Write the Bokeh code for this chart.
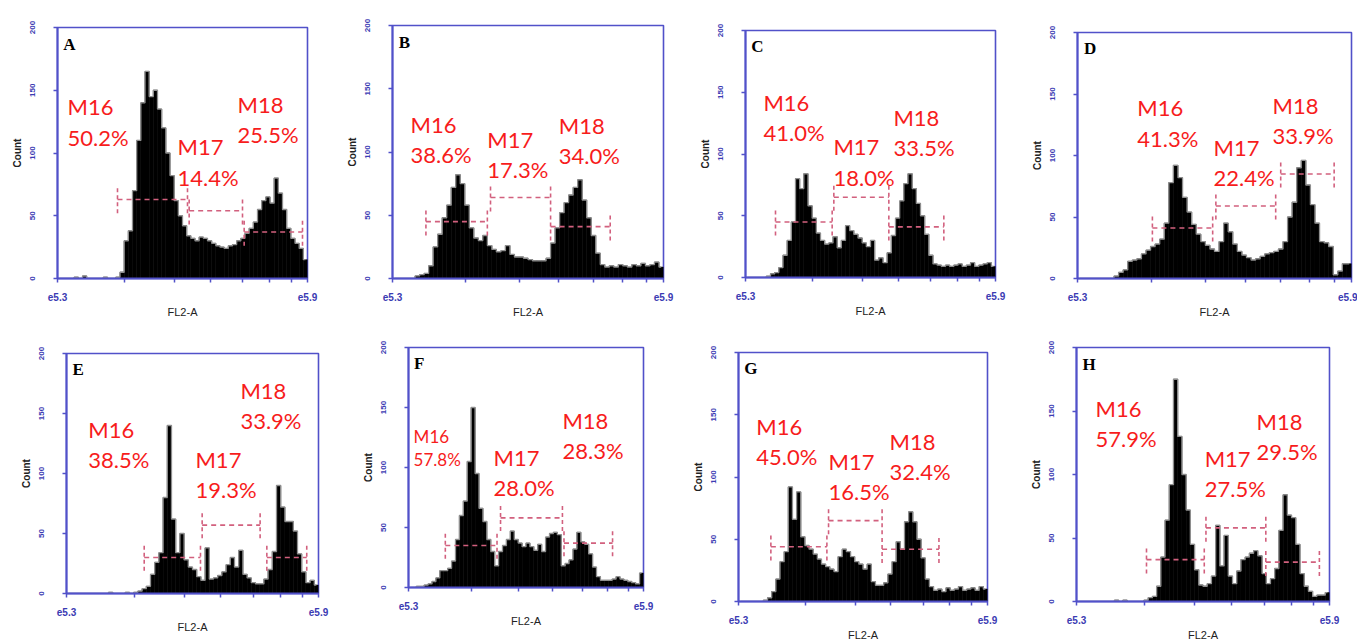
import numpy as np
from bokeh.plotting import figure
from bokeh.layouts import column, row
from bokeh.models import Range1d, FixedTicker, ColumnDataSource
from bokeh.core.properties import value
from bokeh.embed import file_html
from bokeh.resources import INLINE

# ---------------- data ----------------
X_START, X_END = 5.3, 5.9
BIN_W = 0.01
X_MINOR_TICKS = [5.461, 5.581, 5.667, 5.745, 5.809, 5.862]
Y_TICKS = [0, 50, 100, 150, 200]
GATE_NAMES = ["M16", "M17", "M18"]
PANELS = ["A", "B", "C", "D", "E", "F", "G", "H"]

counts_A = [0,0,0,0,1, 0,2,0,0,0, 0,1,0,0,1, 5,30,38,70,110, 140,165,145,150,135,
            120,100,82,62,50, 42,34,32,30,33, 32,30,28,26,25, 24,26,27,30,32,
            36,40,45,55,62, 65,60,80,68,55, 40,32,28,24,15]
counts_B = [0,0,0,0,0, 2,3,4,10,25, 35,48,58,72,82, 75,58,40,32,30, 34,26,23,21,22,
            26,19,17,17,16, 15,14,14,14,16, 28,40,52,60,66, 72,78,62,48,34,
            20,11,9,10,9, 11,10,9,11,10, 12,10,11,13,9]
counts_C = [0,0,0,0,0, 1,3,4,8,18, 30,45,80,72,84, 58,48,36,30,27, 28,33,24,30,42,
            38,35,32,28,25, 30,14,16,12,20, 34,48,62,76,84, 72,60,50,35,18,
            11,10,9,10,9, 10,11,9,10,12, 9,10,11,12,9]
counts_D = [0,0,0,0,0, 0,0,0,2,5, 7,14,15,16,20, 23,26,28,32,45, 78,92,82,66,54,
            44,36,30,27,24, 22,30,45,38,28, 22,19,17,15,16, 18,20,21,22,24,
            30,50,62,90,96, 76,60,45,30,29, 26,3,6,12,12]
counts_E = [0,0,0,0,0, 0,0,0,0,0, 1,0,0,0,1, 0,1,2,4,6, 16,26,34,80,140,
            62,34,50,28,22, 20,14,11,38,12, 13,15,18,24,30, 22,36,16,13,9,
            8,8,12,20,35, 90,72,60,60,52, 33,18,9,11,7]
counts_F = [0,0,1,1,2, 3,5,8,14,14, 16,22,40,60,72, 105,150,95,66,55, 40,30,18,30,35,
            40,47,40,37,34, 37,34,31,36,30, 42,45,46,44,18, 20,23,32,46,38,
            36,28,17,9,6, 6,6,7,9,7, 6,5,4,3,12]
counts_G = [0,0,0,0,0, 0,1,3,8,18, 32,40,92,66,88, 52,45,42,38,34, 30,28,26,24,36,
            42,40,36,32,30, 26,30,16,13,13, 15,22,32,48,42, 64,72,64,50,35,
            18,12,9,10,8, 11,9,10,12,9, 10,11,9,12,10]
counts_H = [0,0,0,0,0, 0,0,0,0,1, 0,1,0,0,0, 0,1,3,4,12, 35,64,92,175,130,
            100,72,45,25,13, 12,14,20,60,28, 52,20,14,24,33, 35,38,40,36,22,
            14,18,26,56,84, 68,66,45,22,12, 8,4,5,5,7]

pct_A = ["50.2%", "14.4%", "25.5%"]
pct_B = ["38.6%", "17.3%", "34.0%"]
pct_C = ["41.0%", "18.0%", "33.5%"]
pct_D = ["41.3%", "22.4%", "33.9%"]
pct_E = ["38.5%", "19.3%", "33.9%"]
pct_F = ["57.8%", "28.0%", "28.3%"]
pct_G = ["45.0%", "16.5%", "32.4%"]
pct_H = ["57.9%", "27.5%", "29.5%"]

# gate marker ranges (FL2-A start, end) and marker height (count)
gate_lo_A = [5.444, 5.616, 5.748]; gate_hi_A = [5.612, 5.744, 5.888]; gate_y_A = [63, 54, 37]
gate_lo_B = [5.374, 5.517, 5.650]; gate_hi_B = [5.510, 5.650, 5.782]; gate_y_B = [45, 64, 41]
gate_lo_C = [5.372, 5.512, 5.644]; gate_hi_C = [5.508, 5.644, 5.776]; gate_y_C = [45, 65, 41]
gate_lo_D = [5.464, 5.603, 5.745]; gate_hi_D = [5.596, 5.734, 5.862]; gate_y_D = [41, 59, 85]
gate_lo_E = [5.485, 5.623, 5.777]; gate_hi_E = [5.619, 5.761, 5.872]; gate_y_E = [30, 57, 30]
gate_lo_F = [5.394, 5.535, 5.697]; gate_hi_F = [5.526, 5.693, 5.821]; gate_y_F = [35, 58, 37]
gate_lo_G = [5.378, 5.517, 5.646]; gate_hi_G = [5.513, 5.646, 5.783]; gate_y_G = [44, 65, 42]
gate_lo_H = [5.466, 5.607, 5.749]; gate_hi_H = [5.603, 5.749, 5.876]; gate_y_H = [33, 58, 31]

# ---------------- layout / style ----------------
lab_x = {"A": [5.324, 5.588, 5.732], "B": [5.340, 5.510, 5.668], "C": [5.343, 5.511, 5.655],
         "D": [5.431, 5.598, 5.727], "E": [5.352, 5.607, 5.714], "F": [5.313, 5.517, 5.693],
         "G": [5.343, 5.517, 5.664], "H": [5.345, 5.604, 5.727]}
lab_y = {"A": [142, 110, 144], "B": [127, 115, 126], "C": [147, 111, 135], "D": [144, 112, 146],
         "E": [142, 117, 175], "F": [129, 114, 145], "G": [146, 118, 134], "H": [157, 118, 147]}
lab_fs = {k: ["22px", "22px", "22px"] for k in PANELS}
lab_fs["F"] = ["17px", "22px", "22px"]

# width, height, border left, right, top, bottom
geom = {"A": (340, 320, 57, 33, 27, 41), "B": (340, 320, 52, 17, 25, 42),
        "C": (335, 320, 65, 20, 30, 43), "D": (342, 320, 62, 6, 32, 37),
        "E": (340, 323, 66, 22, 33, 50), "F": (340, 323, 68, 37, 27, 56),
        "G": (335, 323, 58, 28, 32, 40), "H": (342, 323, 61, 28, 27, 41)}

data = {"A": (counts_A, pct_A, gate_lo_A, gate_hi_A, gate_y_A),
        "B": (counts_B, pct_B, gate_lo_B, gate_hi_B, gate_y_B),
        "C": (counts_C, pct_C, gate_lo_C, gate_hi_C, gate_y_C),
        "D": (counts_D, pct_D, gate_lo_D, gate_hi_D, gate_y_D),
        "E": (counts_E, pct_E, gate_lo_E, gate_hi_E, gate_y_E),
        "F": (counts_F, pct_F, gate_lo_F, gate_hi_F, gate_y_F),
        "G": (counts_G, pct_G, gate_lo_G, gate_hi_G, gate_y_G),
        "H": (counts_H, pct_H, gate_lo_H, gate_hi_H, gate_y_H)}

AXIS_BLUE = "#5151c9"
TICK_BLUE = "#3b3bb3"
GATE_COLOR = "#d2607e"
LABEL_RED = "#f71c1c"
GATE_HALF = 11


def make_panel(letter):
    counts, pct, glo, ghi, gy = data[letter]
    w, h, bl, br, bt, bb = geom[letter]
    p = figure(width=w, height=h, x_range=Range1d(X_START, X_END), y_range=Range1d(0, 200),
               toolbar_location=None, output_backend="svg",
               min_border_left=bl, min_border_right=br, min_border_top=bt, min_border_bottom=bb)
    p.frame_align = False
    p.xgrid.visible = False
    p.ygrid.visible = False
    p.outline_line_color = AXIS_BLUE
    p.outline_line_width = 1.6
    p.outline_line_alpha = 1.0
    p.background_fill_color = "white"
    p.border_fill_color = "white"

    centers = X_START + BIN_W * (np.arange(len(counts)) + 0.5)
    src = ColumnDataSource(dict(x=centers, top=counts))
    p.vbar(x="x", top="top", width=BIN_W, source=src, fill_color="black",
           line_color="black", line_width=0.6)
    p.step(x="x", y="top", source=src, mode="center", line_color="#8e8e8e", line_width=1.3)

    # gate markers
    p.segment(x0=glo, y0=gy, x1=ghi, y1=gy, line_color=GATE_COLOR, line_dash="5 4", line_width=1.6)
    ex = list(glo) + list(ghi)
    ey = list(gy) + list(gy)
    p.segment(x0=ex, y0=[v - GATE_HALF for v in ey], x1=ex, y1=[v + GATE_HALF for v in ey],
              line_color=GATE_COLOR, line_dash="4 3", line_width=1.6)

    # gate labels
    texts = [n + "\n" + pc for n, pc in zip(GATE_NAMES, pct)]
    p.text(x=lab_x[letter], y=lab_y[letter], text=texts, text_font=value("Lato"),
           text_font_size=lab_fs[letter], text_color=LABEL_RED, text_baseline="top",
           text_align="left", text_line_height=1.12, y_offset=-7)

    # panel letter
    p.text(x=[X_START + 0.014], y=[192], text=[letter], text_font=value("Liberation Serif"),
           text_font_style="bold", text_font_size="17px", text_color="black",
           text_baseline="top", y_offset=-3)

    xa = p.xaxis[0]
    ya = p.yaxis[0]
    xa.ticker = FixedTicker(ticks=[X_START, X_END], minor_ticks=X_MINOR_TICKS)
    xa.major_label_overrides = {X_START: "e5.3", X_END: "e5.9"}
    ya.ticker = FixedTicker(ticks=Y_TICKS, minor_ticks=[])
    for ax in (xa, ya):
        ax.axis_line_color = AXIS_BLUE
        ax.axis_line_width = 2
        ax.major_tick_line_color = AXIS_BLUE
        ax.minor_tick_line_color = AXIS_BLUE
        ax.major_tick_line_width = 1.5
        ax.minor_tick_line_width = 1.5
        ax.major_tick_in = 0
        ax.major_tick_out = 4
        ax.minor_tick_in = 0
        ax.minor_tick_out = 4
        ax.major_label_text_color = TICK_BLUE
        ax.major_label_text_font = "Liberation Sans"
        ax.major_label_text_font_style = "bold"
        ax.axis_label_text_font = "Liberation Sans"
        ax.axis_label_text_color = "#222222"
    ya.major_label_orientation = "vertical"
    ya.major_label_text_font_size = "8px"
    ya.major_label_standoff = 19
    ya.axis_label = "Count"
    ya.axis_label_text_font_size = "10px"
    ya.axis_label_text_font_style = "bold"
    ya.axis_label_standoff = 4
    xa.major_label_text_font_size = "10px"
    xa.major_label_standoff = 10
    xa.axis_label = "FL2-A"
    xa.axis_label_text_font_size = "11px"
    xa.axis_label_text_font_style = "normal"
    xa.axis_label_standoff = 2
    return p


figs = {k: make_panel(k) for k in PANELS}
layout = column(row(figs["A"], figs["B"], figs["C"], figs["D"]),
                row(figs["E"], figs["F"], figs["G"], figs["H"]))

open("out.html", "w").write(file_html(layout, INLINE))
